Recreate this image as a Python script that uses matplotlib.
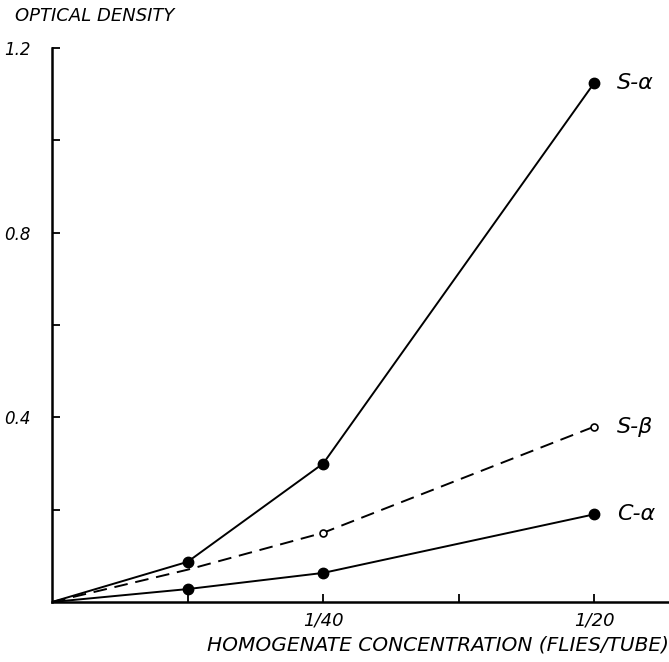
import matplotlib
matplotlib.use("Agg")
import matplotlib.pyplot as plt

# concentracion en unidades de 1/80 moscas/tubo
conc = [0, 1, 2, 4]
s_alpha = [0, 0.087, 0.30, 1.125]
s_beta = [0, 0.07, 0.15, 0.38]
c_alpha = [0, 0.028, 0.063, 0.19]

series_names = ["S-\u03b1", "S-\u03b2", "C-\u03b1"]
x_ticks = [1, 2, 3, 4]
x_ticklabels = ["", "1/40", "", "1/20"]
y_ticks = [0.2, 0.4, 0.6, 0.8, 1.0, 1.2]
y_ticklabels = ["", "0.4", "", "0.8", "", "1.2"]

plt.rcParams['font.family'] = ['DejaVu Sans']
fnt = dict(style='italic', color='black')

fig = plt.figure(figsize=(6.69, 6.62), dpi=100)
ax = fig.add_axes([52 / 669, 60 / 662, 617 / 669, 554 / 662])

ax.plot(conc, s_alpha, color='black', lw=1.4, linestyle='-')
ax.plot(conc[1:], s_alpha[1:], linestyle='None', marker='o', ms=7.5,
        mfc='black', mec='black')
ax.plot(conc, s_beta, color='black', lw=1.4, linestyle=(0, (7, 4)))
ax.plot(conc[2:], s_beta[2:], linestyle='None', marker='o', ms=5,
        mfc='white', mec='black', mew=1.2)
ax.plot(conc, c_alpha, color='black', lw=1.4, linestyle='-')
ax.plot(conc[1:], c_alpha[1:], linestyle='None', marker='o', ms=7.5,
        mfc='black', mec='black')

# etiquetas de las series, a la derecha del ultimo punto
for name, ys in zip(series_names, [s_alpha, s_beta, c_alpha]):
    ax.annotate(name, (conc[-1], ys[-1]), xytext=(16, 0),
                textcoords='offset points', va='center', ha='left',
                fontsize=16, **fnt)

ax.set_xlim(0, 4.55)
ax.set_ylim(0, 1.2)
ax.spines['right'].set_visible(False)
ax.spines['top'].set_visible(False)
ax.spines['left'].set_linewidth(1.8)
ax.spines['bottom'].set_linewidth(1.8)

ax.set_xticks(x_ticks)
ax.set_xticklabels(x_ticklabels, fontsize=13, **fnt)
ax.set_yticks(y_ticks)
ax.set_yticklabels(y_ticklabels, fontsize=12, **fnt)
ax.tick_params(direction='in', length=6, width=1.3)
ax.tick_params(axis='x', pad=7)
ax.tick_params(axis='y', pad=15)

ax.text(4.55, -0.072, "HOMOGENATE CONCENTRATION (FLIES/TUBE)", ha='right',
        va='top', transform=ax.transData, fontsize=14.5, **fnt)
fig.text(15 / 669, 1 - 16 / 662, "OPTICAL DENSITY", ha='left', va='center',
         fontsize=13, **fnt)

fig.savefig("out.png", dpi=100)
plt.close('all')
